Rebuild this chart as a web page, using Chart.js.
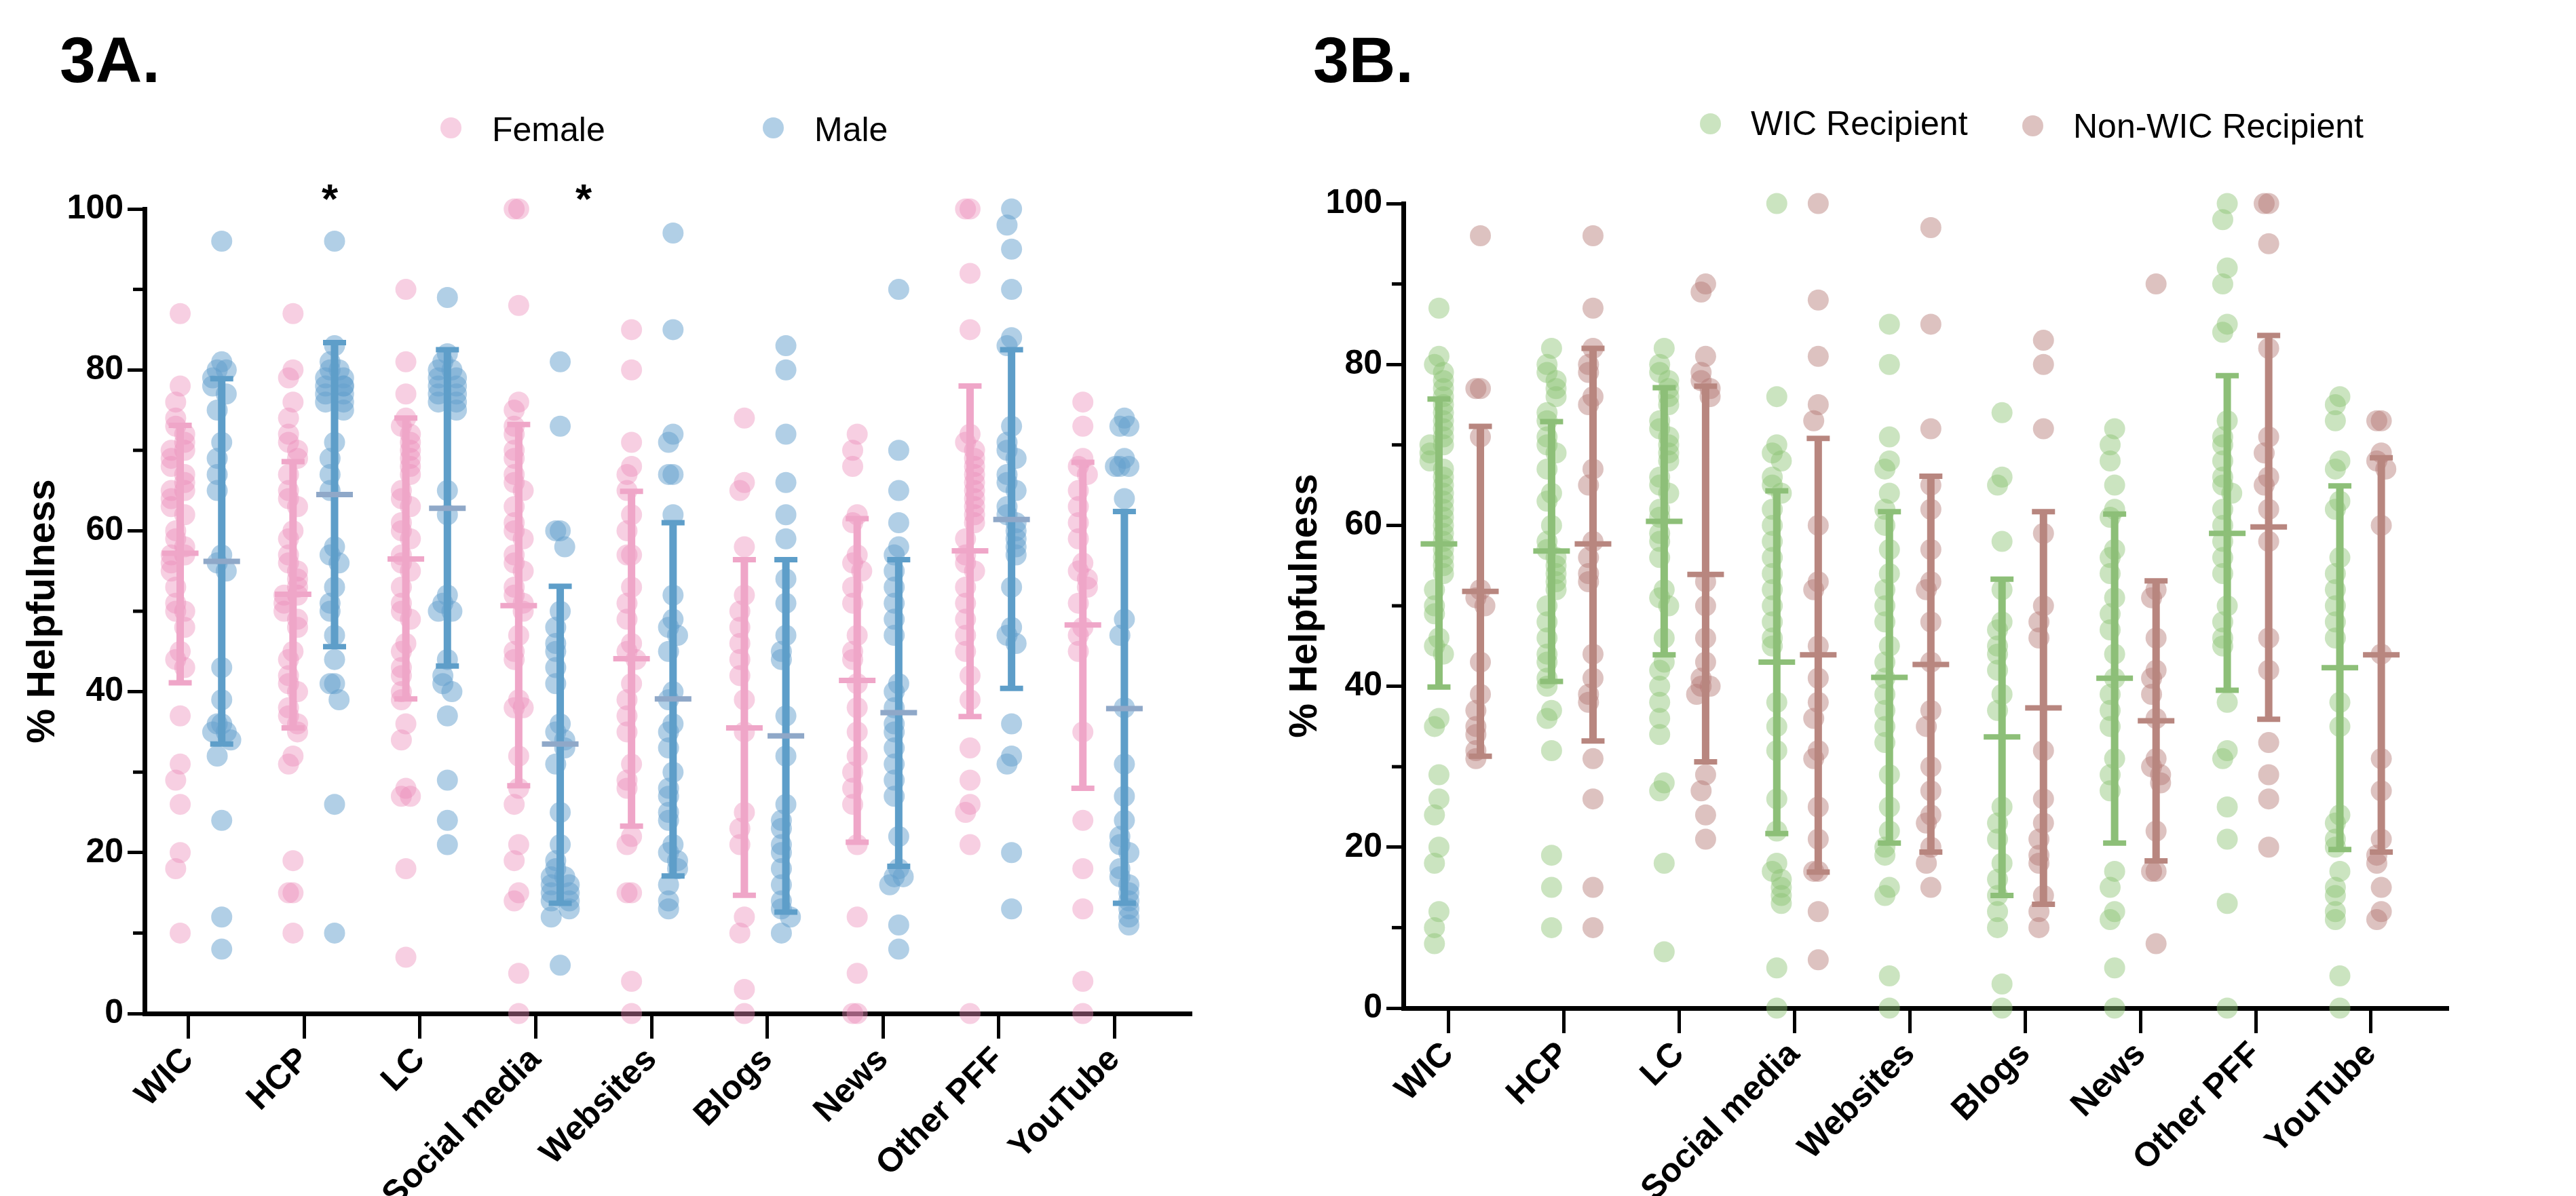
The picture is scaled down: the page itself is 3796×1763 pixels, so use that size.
<!DOCTYPE html>
<html>
<head>
<meta charset="utf-8">
<script src="https://cdn.jsdelivr.net/npm/chart.js@4.4.1/dist/chart.umd.min.js"></script>
<style>
    body { margin: 0; background: #fff; font-family: 'Liberation Sans', Arial, sans-serif; }
    #page { position: relative; width: 3796px; height: 1763px; overflow: hidden; background: #fff; }
    .panel { position: absolute; top: 0; height: 1763px; }
    .label { position: absolute; font-weight: bold; font-size: 95px; line-height: 1; color: #000; }
    .legend { position: absolute; font-size: 50px; line-height: 1; color: #000; white-space: nowrap; }
    .dot { position: absolute; width: 31px; height: 31px; border-radius: 50%; }
    .star { position: absolute; font-weight: bold; font-size: 62px; line-height: 1; color: #000; }
</style>
</head>
<body>
<div id="page">
    <div class="panel" style="left:0;width:1900px"><canvas id="chartA"></canvas></div>
    <div class="panel" style="left:1860px;width:1936px"><canvas id="chartB"></canvas></div>

    <div class="label" style="left:88px;top:41px">3A.</div>
    <div class="label" style="left:1935px;top:41px">3B.</div>

    <div class="dot" style="left:649px;top:173px;background:rgba(236,140,185,0.42)"></div>
    <div class="legend" style="left:725px;top:166px">Female</div>
    <div class="dot" style="left:1124px;top:173px;background:rgba(100,160,205,0.5)"></div>
    <div class="legend" style="left:1200px;top:166px">Male</div>

    <div class="dot" style="left:2505px;top:167px;background:rgba(140,195,115,0.45)"></div>
    <div class="legend" style="left:2580px;top:157px">WIC Recipient</div>
    <div class="dot" style="left:2980px;top:170px;background:rgba(180,120,115,0.45)"></div>
    <div class="legend" style="left:3055px;top:161px">Non-WIC Recipient</div>

    <div class="star" style="left:474px;top:262px">*</div>
    <div class="star" style="left:848px;top:262px">*</div>
</div>

<script>
// chart data
const categories = ['WIC', 'HCP', 'LC', 'Social media', 'Websites', 'Blogs', 'News', 'Other PFF', 'YouTube'];
const yTickValues = [0, 20, 40, 60, 80, 100];
const yMinorTicks = [10, 30, 50, 70, 90];

// 3A. female respondents, one list per source
const femaleValues = [
    [87, 78, 76, 74, 73, 72, 71, 70, 70, 69, 68, 67, 66, 65, 65, 64, 63, 62, 60, 59, 58, 57, 57, 56, 55, 53, 51, 50, 50, 48, 45, 44, 43, 37, 31, 29, 26, 20, 18, 10],
    [87, 80, 79, 76, 74, 72, 71, 70, 69, 67, 65, 64, 63, 60, 59, 57, 56, 55, 54, 53, 52, 52, 51, 50, 49, 48, 45, 44, 42, 41, 40, 38, 37, 36, 35, 32, 31, 19, 15, 15, 10],
    [90, 81, 77, 74, 73, 72, 71, 70, 69, 68, 67, 65, 64, 63, 61, 60, 59, 57, 56, 55, 53, 51, 50, 49, 46, 45, 43, 42, 40, 39, 36, 34, 28, 27, 27, 18, 7],
    [100, 100, 88, 76, 75, 73, 72, 70, 69, 67, 66, 65, 63, 61, 60, 59, 57, 56, 55, 53, 52, 51, 50, 47, 45, 44, 39, 38, 38, 32, 28, 26, 21, 19, 15, 14, 5, 0],
    [85, 80, 71, 68, 67, 65, 62, 60, 57, 57, 53, 51, 49, 46, 45, 44, 41, 39, 37, 35, 31, 29, 28, 22, 21, 15, 15, 4, 0],
    [74, 66, 65, 58, 52, 50, 48, 46, 44, 42, 39, 35, 25, 23, 21, 12, 10, 3, 0],
    [72, 70, 68, 62, 61, 57, 56, 55, 53, 51, 47, 45, 44, 41, 38, 35, 32, 30, 28, 26, 21, 12, 5, 0, 0],
    [100, 100, 92, 85, 72, 71, 70, 69, 68, 67, 66, 65, 64, 63, 62, 61, 59, 57, 56, 55, 53, 51, 49, 47, 45, 42, 39, 33, 29, 26, 25, 21, 0],
    [76, 73, 69, 68, 67, 65, 63, 61, 59, 56, 55, 54, 53, 51, 48, 47, 45, 35, 24, 18, 13, 4, 0]
];
const femaleMean = [57.2, 52.1, 56.5, 50.7, 44.1, 35.5, 41.4, 57.5, 48.3];
const femaleUpper = [73.1, 68.6, 74.0, 73.2, 64.9, 56.4, 61.5, 78.0, 68.5];
const femaleLower = [41.1, 35.5, 39.1, 28.3, 23.3, 14.7, 21.3, 36.9, 28.0];

// 3A. male respondents
const maleValues = [
    [96, 81, 80, 80, 79, 78, 77, 75, 71, 69, 67, 65, 57, 56, 55, 43, 39, 36, 36, 35, 35, 34, 32, 24, 12, 8],
    [96, 83, 81, 80, 80, 79, 79, 78, 78, 78, 77, 77, 76, 76, 75, 71, 69, 67, 65, 58, 57, 56, 53, 51, 50, 47, 44, 41, 41, 39, 26, 10],
    [89, 82, 81, 80, 80, 79, 79, 78, 78, 77, 77, 76, 76, 75, 65, 62, 52, 51, 50, 50, 44, 42, 41, 40, 37, 29, 24, 21],
    [81, 73, 60, 60, 58, 50, 48, 46, 45, 43, 41, 36, 35, 34, 33, 31, 25, 21, 19, 18, 17, 17, 16, 16, 15, 15, 14, 14, 13, 12, 6],
    [97, 85, 72, 71, 67, 67, 62, 52, 49, 48, 47, 45, 40, 39, 36, 35, 33, 30, 28, 27, 25, 24, 21, 20, 19, 18, 16, 14, 13],
    [83, 80, 72, 66, 62, 59, 54, 51, 47, 45, 44, 37, 32, 26, 24, 23, 21, 20, 18, 16, 14, 13, 12, 10],
    [90, 70, 65, 61, 58, 57, 55, 53, 51, 49, 47, 41, 40, 38, 36, 35, 33, 31, 29, 27, 22, 18, 17, 17, 16, 11, 8],
    [100, 98, 95, 90, 84, 83, 73, 71, 70, 69, 67, 66, 65, 63, 62, 61, 60, 59, 58, 57, 53, 48, 47, 46, 36, 32, 31, 20, 13],
    [74, 73, 73, 69, 68, 68, 68, 64, 49, 47, 38, 31, 27, 24, 22, 21, 20, 18, 17, 16, 15, 14, 13, 12, 11]
];
const maleMean = [56.2, 64.5, 62.8, 33.5, 39.1, 34.5, 37.4, 61.4, 37.9];
const maleUpper = [78.9, 83.4, 82.5, 53.1, 61.0, 56.4, 56.4, 82.5, 62.4];
const maleLower = [33.5, 45.6, 43.2, 13.7, 17.1, 12.6, 18.3, 40.4, 13.7];

// 3B. WIC recipients
const wicValues = [
    [87, 81, 80, 79, 78, 77, 76, 75, 74, 73, 72, 71, 70, 70, 69, 68, 67, 66, 65, 64, 63, 62, 61, 60, 59, 58, 57, 56, 55, 54, 52, 50, 49, 46, 45, 44, 36, 35, 29, 26, 24, 20, 18, 12, 10, 8],
    [82, 80, 79, 78, 77, 76, 74, 73, 71, 70, 69, 67, 64, 63, 60, 58, 57, 56, 55, 54, 53, 52, 50, 48, 46, 44, 43, 41, 40, 37, 36, 32, 19, 15, 10],
    [82, 80, 79, 78, 77, 76, 75, 73, 72, 71, 70, 69, 68, 66, 65, 64, 62, 61, 59, 58, 56, 52, 51, 50, 46, 43, 42, 40, 38, 36, 34, 28, 27, 18, 7],
    [100, 76, 70, 69, 68, 66, 65, 64, 62, 60, 58, 56, 54, 52, 50, 48, 46, 45, 38, 35, 32, 26, 22, 18, 17, 16, 15, 14, 13, 5, 0],
    [85, 80, 71, 68, 67, 64, 62, 60, 57, 54, 52, 50, 48, 45, 43, 41, 39, 37, 35, 33, 29, 25, 22, 20, 19, 15, 14, 4, 0],
    [74, 66, 65, 58, 52, 48, 47, 45, 44, 42, 39, 37, 25, 23, 21, 18, 16, 14, 12, 10, 3, 0],
    [72, 70, 68, 65, 62, 61, 57, 56, 54, 51, 49, 47, 44, 41, 39, 37, 35, 31, 29, 27, 17, 15, 12, 11, 5, 0],
    [100, 98, 92, 90, 85, 84, 73, 71, 70, 68, 66, 65, 64, 62, 60, 58, 56, 54, 50, 48, 46, 45, 38, 32, 31, 25, 21, 13, 0],
    [76, 75, 73, 68, 67, 63, 62, 56, 54, 52, 50, 48, 46, 38, 35, 24, 23, 21, 20, 17, 15, 14, 12, 11, 4, 0]
];
const wicMean = [57.7, 56.8, 60.5, 43.0, 41.1, 33.7, 41.0, 59.0, 42.3];
const wicUpper = [75.7, 72.9, 77.1, 64.3, 61.7, 53.3, 61.4, 78.6, 64.9];
const wicLower = [39.9, 40.6, 43.9, 21.7, 20.5, 14.0, 20.5, 39.5, 19.7];

// 3B. non-WIC recipients
const nonWicValues = [
    [96, 77, 77, 71, 52, 51, 50, 43, 39, 37, 35, 34, 32, 31],
    [96, 87, 82, 80, 79, 76, 75, 67, 65, 58, 56, 54, 53, 44, 41, 39, 38, 31, 26, 15, 10],
    [90, 89, 81, 79, 78, 77, 76, 53, 50, 46, 43, 41, 40, 40, 39, 29, 27, 24, 21],
    [100, 88, 81, 75, 73, 60, 53, 52, 45, 41, 38, 36, 32, 31, 25, 21, 17, 17, 12, 6],
    [97, 85, 72, 65, 62, 57, 53, 52, 48, 43, 37, 35, 30, 27, 24, 23, 20, 18, 15],
    [83, 80, 72, 59, 50, 48, 46, 32, 26, 23, 21, 19, 18, 14, 12, 10],
    [90, 52, 51, 46, 42, 41, 39, 36, 31, 30, 29, 28, 22, 17, 17, 8],
    [100, 100, 95, 82, 71, 69, 66, 65, 62, 58, 46, 42, 33, 29, 26, 20],
    [73, 73, 69, 68, 67, 60, 44, 31, 27, 21, 19, 18, 15, 12, 11]
];
const nonWicMean = [51.8, 57.7, 53.9, 43.9, 42.7, 37.3, 35.7, 59.8, 43.9];
const nonWicUpper = [72.3, 82.0, 77.3, 70.8, 66.1, 61.7, 53.1, 83.6, 68.4];
const nonWicLower = [31.3, 33.2, 30.6, 16.9, 19.4, 12.9, 18.3, 35.9, 19.4];

const GROUP_OFFSET = 0.184;

// spread points that sit on the same value sideways, like a dot plot
function spreadPoints(values, center) {
    let placed = [];
    return values.map((v) => {
        let near = placed.filter((p) => Math.abs(p - v) < 2.5).length;
        placed.push(v);
        let k = near === 0 ? 0 : (near % 2 === 1 ? -Math.ceil(near / 2) : Math.ceil(near / 2));
        k = Math.max(-2, Math.min(2, k));
        return { x: center + k * 0.04, y: v };
    });
}

function groupDatasets(values, mean, lower, upper, side, colors) {
    let points = [];
    let bars = [];
    let caps = [];
    let means = [];
    values.forEach((list, i) => {
        let c = i + side * GROUP_OFFSET;
        points = points.concat(spreadPoints(list, c));
        bars.push({ x: c, y: lower[i] }, { x: c, y: upper[i] }, { x: c, y: null });
        caps.push({ x: c, y: lower[i] }, { x: c, y: upper[i] });
        means.push({ x: c, y: mean[i] });
    });
    return [
        {
            type: 'scatter', data: points, order: 3, clip: false,
            pointRadius: 15.5, pointHoverRadius: 15.5, pointBorderWidth: 0,
            pointBackgroundColor: colors.dot, pointBorderColor: 'rgba(0,0,0,0)'
        },
        {
            type: 'line', data: bars, order: 2, clip: false, spanGaps: false,
            borderColor: colors.bar, borderWidth: 11, borderCapStyle: 'butt',
            pointRadius: 0, pointHoverRadius: 0, fill: false
        },
        {
            type: 'scatter', data: caps, order: 1, clip: false,
            pointStyle: 'line', pointRadius: 17, pointHoverRadius: 17,
            pointBorderWidth: 8, pointBorderColor: colors.bar
        },
        {
            type: 'scatter', data: means, order: 0, clip: false,
            pointStyle: 'line', pointRadius: 27, pointHoverRadius: 27,
            pointBorderWidth: 8, pointBorderColor: colors.mean
        }
    ];
}

// short minor ticks between the labelled ones
const minorTicks = {
    id: 'minorTicks',
    afterDraw(chart) {
        const ctx = chart.ctx;
        const y = chart.scales.y;
        ctx.save();
        ctx.strokeStyle = '#000';
        ctx.lineWidth = 5;
        yMinorTicks.forEach((v) => {
            let py = y.getPixelForValue(v);
            ctx.beginPath();
            ctx.moveTo(chart.chartArea.left - 17, py);
            ctx.lineTo(chart.chartArea.left, py);
            ctx.stroke();
        });
        ctx.restore();
    }
};

function createChart(canvasId, datasets, layout) {
    const ctxt = document.getElementById(canvasId).getContext('2d');
    return new Chart(ctxt, {
        type: 'scatter',
        data: { datasets: datasets },
        plugins: [minorTicks],
        options: {
            responsive: true,
            maintainAspectRatio: false,
            animation: false,
            events: [],
            layout: { padding: { top: layout.top, right: layout.right, left: 0, bottom: 0 } },
            plugins: { legend: { display: false }, tooltip: { enabled: false } },
            scales: {
                x: {
                    type: 'linear',
                    min: -0.5,
                    max: 8.78,
                    afterFit: (scale) => { scale.height = layout.xHeight; },
                    afterBuildTicks: (scale) => {
                        scale.ticks = categories.map((c, i) => ({ value: layout.tickStart + i * layout.tickStep }));
                    },
                    ticks: {
                        autoSkip: false,
                        maxRotation: 45,
                        minRotation: 45,
                        padding: 2,
                        color: '#000',
                        font: { family: 'Liberation Sans', size: 50, weight: 'bold' },
                        callback: (value, index) => categories[index]
                    },
                    grid: { drawOnChartArea: false, tickLength: 37, tickWidth: 5, tickColor: '#000' },
                    border: { display: true, color: '#000', width: 7 }
                },
                y: {
                    min: 0,
                    max: 100,
                    afterFit: (scale) => { scale.width = layout.yWidth; },
                    afterBuildTicks: (scale) => {
                        scale.ticks = yTickValues.map((v) => ({ value: v }));
                    },
                    ticks: {
                        padding: 6,
                        color: '#000',
                        font: { family: 'Liberation Sans', size: 50, weight: 'bold' }
                    },
                    grid: { drawOnChartArea: false, tickLength: 25, tickWidth: 5, tickColor: '#000' },
                    border: { display: true, color: '#000', width: 7 },
                    title: {
                        display: true,
                        text: '% Helpfulness',
                        color: '#000',
                        padding: { top: 30, bottom: 0 },
                        font: { family: 'Liberation Sans', size: 57, weight: 'bold' }
                    }
                }
            }
        }
    });
}

const pink = { dot: 'rgba(236,140,185,0.42)', bar: '#EFA6C8', mean: '#EFA6C8' };
const blue = { dot: 'rgba(100,160,205,0.5)', bar: '#5E9EC9', mean: '#8FA8C8' };
const green = { dot: 'rgba(140,195,115,0.45)', bar: '#8DBF78', mean: '#8DBF78' };
const brown = { dot: 'rgba(180,120,115,0.45)', bar: '#B8867F', mean: '#B8867F' };

var chartA = createChart('chartA',
    groupDatasets(femaleValues, femaleMean, femaleLower, femaleUpper, -1, pink)
        .concat(groupDatasets(maleValues, maleMean, maleLower, maleUpper, 1, blue)),
    { top: 308, right: 144, xHeight: 269, yWidth: 213, tickStart: -0.111, tickStep: 1.026 });

var chartB = createChart('chartB',
    groupDatasets(wicValues, wicMean, wicLower, wicUpper, -1, green)
        .concat(groupDatasets(nonWicValues, nonWicMean, nonWicLower, nonWicUpper, 1, brown)),
    { top: 300, right: 188, xHeight: 277, yWidth: 208, tickStart: -0.099, tickStep: 1.024 });
</script>
</body>
</html>
